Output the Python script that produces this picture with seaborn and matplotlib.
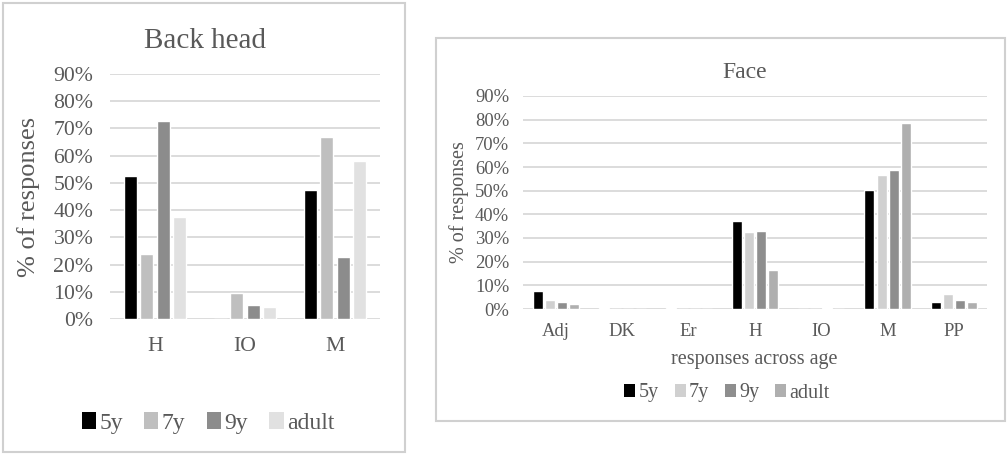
import matplotlib
matplotlib.use("Agg")
import matplotlib.pyplot as plt
import seaborn as sns
import pandas as pd
from matplotlib.patches import Patch, Rectangle
from matplotlib.ticker import PercentFormatter

sns.set_theme(style="white")
plt.rcParams['font.family'] = ['Liberation Serif', 'DejaVu Serif']

ages = ["5y", "7y", "9y", "adult"]

back_cats = ["H", "IO", "M"]
back_5y = [0.525, 0.0, 0.475]
back_7y = [0.24, 0.095, 0.67]
back_9y = [0.728, 0.05, 0.228]
back_adult = [0.375, 0.045, 0.582]

face_cats = ["Adj", "DK", "Er", "H", "IO", "M", "PP"]
face_5y = [0.077, 0.005, 0.005, 0.373, 0.0, 0.502, 0.03]
face_7y = [0.04, 0.0, 0.0, 0.327, 0.0, 0.565, 0.065]
face_9y = [0.028, 0.0, 0.0, 0.33, 0.005, 0.586, 0.04]
face_adult = [0.02, 0.0, 0.0, 0.165, 0.0, 0.786, 0.03]

back_colors = ["#000000", "#bfbfbf", "#8c8c8c", "#e1e1e1"]
face_colors = ["#000000", "#d0d0d0", "#8e8e8e", "#afafaf"]

TXT = "#595959"
GRID = "#d9d9d9"

W, H = 1007, 455
fig = plt.figure(figsize=(W / 100, H / 100), dpi=100)


def frac(x0, y0, x1, y1):
    return [x0 / W, 1 - y1 / H, (x1 - x0) / W, (y1 - y0) / H]


def long_df(cats, series):
    rows = []
    for age, vals in zip(ages, series):
        for c, v in zip(cats, vals):
            rows.append({"cat": c, "age": age, "val": v})
    return pd.DataFrame(rows)


# panel borders
for (x0, y0, x1, y1) in [(3, 3, 405, 452), (436, 38, 1005, 421)]:
    fig.patches.append(Rectangle((x0 / W, 1 - y1 / H), (x1 - x0) / W, (y1 - y0) / H,
                                 transform=fig.transFigure, fill=False,
                                 edgecolor="#d0d0d0", linewidth=1.5, zorder=0))


def style_axes(ax, cats, fs):
    ax.set_ylim(0, 0.9)
    ax.set_xlim(-0.5, len(cats) - 0.5)
    ax.set_yticks([i / 10 for i in range(10)])
    ax.yaxis.set_major_formatter(PercentFormatter(1.0, decimals=0))
    ax.grid(axis="y", color=GRID, linewidth=1.3)
    ax.set_axisbelow(True)
    for s in ax.spines.values():
        s.set_visible(False)
    ax.tick_params(axis="both", length=0, labelsize=fs, colors=TXT)
    ax.set_xlabel("")


# Left panel: Back head
ax1 = fig.add_axes(frac(110, 74, 380, 319))
df1 = long_df(back_cats, [back_5y, back_7y, back_9y, back_adult])
sns.barplot(data=df1, x="cat", y="val", hue="age", order=back_cats, hue_order=ages,
            palette=back_colors, saturation=1, width=0.73, gap=0.2,
            errorbar=None, legend=False, ax=ax1)
style_axes(ax1, back_cats, 15.7)
ax1.tick_params(axis="x", pad=13)
ax1.tick_params(axis="y", pad=12)
ax1.set_ylabel("% of responses", fontsize=19, color=TXT)
ax1.yaxis.set_label_coords(-0.30, 0.5)
ax1.yaxis.label.set_va("center")
fig.text(205 / W, 1 - 41 / H, "Back head", ha="center", va="center", fontsize=21, color=TXT)
h1 = [Patch(facecolor=c, edgecolor="none") for c in back_colors]
fig.legend(h1, ages, loc="center", bbox_to_anchor=(208 / W, 1 - 423 / H), ncol=4,
           frameon=False, fontsize=17, handlelength=0.6, handleheight=0.7,
           handletextpad=0.15, columnspacing=0.9, labelcolor=TXT)

# Right panel: Face
ax2 = fig.add_axes(frac(523, 96, 987, 309))
df2 = long_df(face_cats, [face_5y, face_7y, face_9y, face_adult])
sns.barplot(data=df2, x="cat", y="val", hue="age", order=face_cats, hue_order=ages,
            palette=face_colors, saturation=1, width=0.73, gap=0.17,
            errorbar=None, legend=False, ax=ax2)
style_axes(ax2, face_cats, 13.4)
ax2.tick_params(axis="x", pad=10)
ax2.tick_params(axis="y", pad=10)
ax2.set_ylabel("% of responses", fontsize=14.5, color=TXT)
ax2.yaxis.set_label_coords(-0.138, 0.5)
ax2.yaxis.label.set_va("center")
ax2.set_xlabel("responses across age", fontsize=14.5, color=TXT)
ax2.xaxis.set_label_coords(0.498, -0.235)
ax2.xaxis.label.set_va("center")
fig.text(745 / W, 1 - 73 / H, "Face", ha="center", va="center", fontsize=17, color=TXT)
h2 = [Patch(facecolor=c, edgecolor="none") for c in face_colors]
fig.legend(h2, ages, loc="center", bbox_to_anchor=(727 / W, 1 - 393 / H), ncol=4,
           frameon=False, fontsize=14.5, handlelength=0.55, handleheight=0.6,
           handletextpad=0.15, columnspacing=0.8, labelcolor=TXT)

fig.savefig("out.png", dpi=100, facecolor="white")
